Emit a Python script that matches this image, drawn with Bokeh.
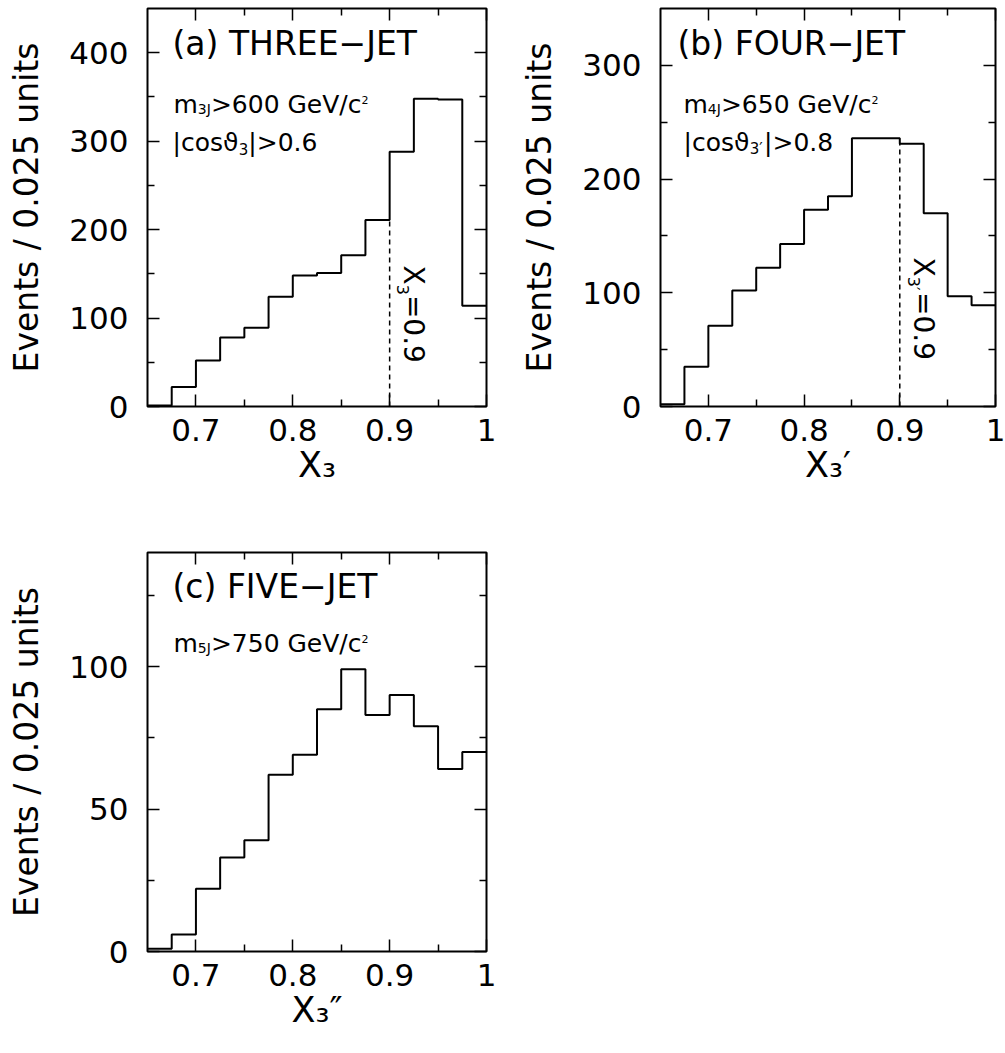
import math
from bokeh.plotting import figure
from bokeh.models import Range1d, FixedTicker, LinearAxis, CustomJSTickFormatter, Label
from bokeh.layouts import column, row
from bokeh.embed import file_html
from bokeh.resources import INLINE

# ---------------- data ----------------
bin_lo = [0.650, 0.675, 0.700, 0.725, 0.750, 0.775, 0.800,
          0.825, 0.850, 0.875, 0.900, 0.925, 0.950, 0.975]
bin_end = 1.0
three_jet = [1, 22, 52, 78, 89, 124, 148, 151, 171, 211, 288, 348, 347, 114]
four_jet = [2, 35, 71, 102, 122, 143, 173, 185, 236, 236, 231, 170, 97, 89]
five_jet = [1, 6, 22, 33, 39, 62, 69, 85, 99, 83, 90, 79, 64, 70]
cut_x = 0.9

x_major = [0.7, 0.8, 0.9, 1.0]
x_minor = [0.75, 0.85, 0.95]
ya_major = [0, 100, 200, 300, 400]
ya_minor = [50, 150, 250, 350]
yb_major = [0, 100, 200, 300]
yb_minor = [50, 150, 250]
yc_major = [0, 50, 100]
yc_minor = [25, 75, 125]

x_titles = ["X₃", "X₃′", "X₃″"]
y_title = "Events / 0.025 units"

FONT = "DejaVu Sans"
# DejaVu Sans advance widths (em)
W = {" ": .318, "(": .390, ")": .390, "/": .337, ".": .318, "=": .838, ">": .838,
     "|": .337, "−": .838, "E": .632, "F": .575, "G": .775, "H": .752, "I": .295,
     "J": .295, "O": .787, "R": .695, "T": .611, "U": .732, "V": .684, "X": .686,
     "a": .613, "b": .635, "c": .550, "e": .615, "m": .974, "o": .612, "s": .521,
     "ϑ": .630, "′": .320, "″": .500}
BASE_FIX = 0.36  # empirical baseline correction (em)


def text_w(t, size):
    return sum(W.get(ch, .636 if ch.isdigit() else .6) for ch in t) * size


def fmt_num():
    return CustomJSTickFormatter(code="return (Math.round(tick*1000)/1000).toString();")


def fmt_none():
    return CustomJSTickFormatter(code="return '';")


def make_panel(ymax, ymaj, ymin, fw, fh, bl, br, bt, bb, xtitle):
    p = figure(frame_width=fw, frame_height=fh,
               x_range=Range1d(0.65, 1.0), y_range=Range1d(0, ymax),
               x_axis_type=None, y_axis_type=None,
               output_backend="svg", toolbar_location=None,
               min_border_left=bl, min_border_right=br,
               min_border_top=bt, min_border_bottom=bb)
    p.background_fill_color = "white"
    p.border_fill_color = "white"
    p.outline_line_color = "black"
    p.outline_line_width = 2
    xt = FixedTicker(ticks=x_major, minor_ticks=x_minor)
    yt = FixedTicker(ticks=ymaj, minor_ticks=ymin)

    def style(ax, show):
        ax.axis_line_color = None
        ax.major_tick_in = 12
        ax.major_tick_out = 0
        ax.minor_tick_in = 7
        ax.minor_tick_out = 0
        ax.major_tick_line_width = 1.5
        ax.minor_tick_line_width = 1.5
        ax.major_tick_line_color = "black"
        ax.minor_tick_line_color = "black"
        ax.major_label_text_font = FONT
        ax.major_label_text_font_size = "31px"
        ax.major_label_text_color = "black"
        if not show:
            ax.major_label_standoff = 0

    xb = LinearAxis(ticker=xt, formatter=fmt_num())
    style(xb, True)
    xb.major_label_standoff = 12
    xb.axis_label = xtitle
    xb.axis_label_text_font = FONT
    xb.axis_label_text_font_size = "35px"
    xb.axis_label_text_font_style = "normal"
    xb.axis_label_text_color = "black"
    xb.axis_label_standoff = 1
    p.add_layout(xb, "below")
    yl = LinearAxis(ticker=yt, formatter=fmt_num())
    style(yl, True)
    yl.major_label_standoff = 19
    yl.axis_label = y_title
    yl.axis_label_text_font = FONT
    yl.axis_label_text_font_size = "33px"
    yl.axis_label_text_font_style = "normal"
    yl.axis_label_text_color = "black"
    yl.axis_label_standoff = 20
    p.add_layout(yl, "left")
    xa = LinearAxis(ticker=xt, formatter=fmt_none())
    style(xa, False)
    p.add_layout(xa, "above")
    yr = LinearAxis(ticker=yt, formatter=fmt_none())
    style(yr, False)
    p.add_layout(yr, "right")
    return p


def hist(p, vals, with_cut):
    xs = bin_lo + [bin_end]
    ys = vals + [vals[-1]]
    p.step(xs, ys, mode="after", line_width=2, line_color="black")
    if with_cut:
        i = bin_lo.index(cut_x)
        top = min(vals[i - 1], vals[i])
        p.segment(x0=[cut_x], y0=[0], x1=[cut_x], y1=[top],
                  line_color="black", line_width=1.5, line_dash="5 4")


def to_data(g, px, py):
    x = 0.65 + (px - g["left"]) / g["w"] * 0.35
    y = g["ymax"] * (g["top"] + g["h"] - py) / g["h"]
    return x, y


def put(p, g, px, py, text, size, angle=0.0):
    x, y = to_data(g, px, py)
    p.add_layout(Label(x=x, y=y, text=text, text_font=FONT,
                       text_font_size=f"{size}px", text_color="black",
                       text_align="left", text_baseline="alphabetic",
                       angle=angle))


def chain(p, g, px, py, pieces, rotated=False):
    for text, size, shift in pieces:
        if rotated:
            put(p, g, px - shift + BASE_FIX * size, py, text, size, angle=-math.pi / 2)
            py += text_w(text, size)
        else:
            put(p, g, px, py + shift - BASE_FIX * size, text, size)
            px += text_w(text, size)


# page geometry of each frame (pixels)
ga = dict(left=147, top=8, w=339, h=398, ymax=450)
gb = dict(left=660, top=8, w=335, h=398, ymax=350)
gc = dict(left=147, top=552, w=339, h=399, ymax=140)

pa = make_panel(ga["ymax"], ya_major, ya_minor, 339, 398, 147, 20, 8, 100, x_titles[0])
pb = make_panel(gb["ymax"], yb_major, yb_minor, 335, 398, 154, 10, 8, 100, x_titles[1])
pc = make_panel(gc["ymax"], yc_major, yc_minor, 339, 399, 147, 20, 46, 102, x_titles[2])

hist(pa, three_jet, True)
hist(pb, four_jet, True)
hist(pc, five_jet, False)

# panel (a) texts
chain(pa, ga, 172, 55, [("(a) THREE−JET", 33, 0)])
chain(pa, ga, 173, 113, [("m", 25, 0), ("3J", 14, 1), (">600 GeV/c", 25, 0), ("2", 11, -10)])
chain(pa, ga, 172, 151, [("|cosϑ", 25, 0), ("3", 15, 3), ("|>0.6", 25, 0)])
chain(pa, ga, 403, 265, [("X", 28, 0), ("3", 16, 6), ("=0.9", 28, 0)], rotated=True)

# panel (b) texts
chain(pb, gb, 677, 55, [("(b) FOUR−JET", 33, 0)])
chain(pb, gb, 683, 113, [("m", 25, 0), ("4J", 14, 1), (">650 GeV/c", 25, 0), ("2", 11, -10)])
chain(pb, gb, 683, 151, [("|cosϑ", 25, 0), ("3′", 15, 3), ("|>0.8", 25, 0)])
chain(pb, gb, 913, 257, [("X", 28, 0), ("3′", 16, 6), ("=0.9", 28, 0)], rotated=True)

# panel (c) texts
chain(pc, gc, 172, 598, [("(c) FIVE−JET", 33, 0)])
chain(pc, gc, 173, 652, [("m", 25, 0), ("5J", 14, 1), (">750 GeV/c", 25, 0), ("2", 11, -10)])

layout = column(row(pa, pb), row(pc))
open("out.html", "w").write(file_html(layout, INLINE))
